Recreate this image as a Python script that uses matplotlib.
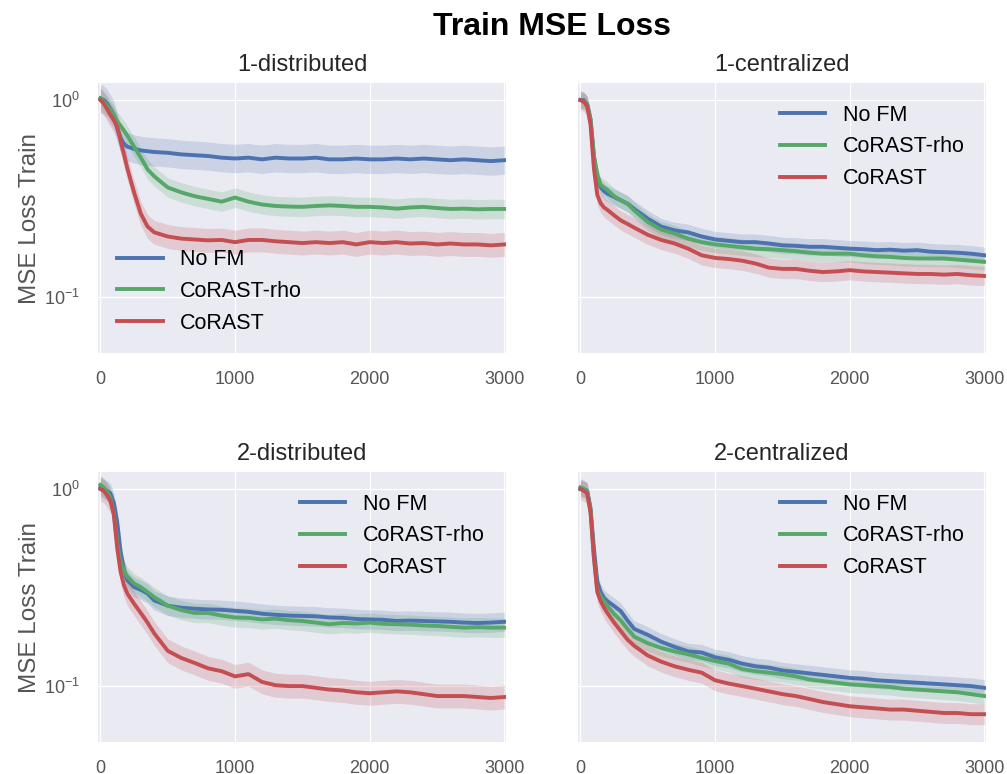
import numpy as np
import matplotlib
matplotlib.use("Agg")
import matplotlib.pyplot as plt
from matplotlib.ticker import LogLocator, NullLocator

steps = [0, 25, 50, 75, 100, 125, 150, 175, 200, 250, 300, 350, 400,
         500, 600, 700, 800, 900, 1000, 1100, 1200, 1300, 1400, 1500,
         1600, 1700, 1800, 1900, 2000, 2100, 2200, 2300, 2400, 2500,
         2600, 2700, 2800, 2900, 3000]

methods = ["No FM", "CoRAST-rho", "CoRAST"]
panel_titles = ["1-distributed", "1-centralized", "2-distributed", "2-centralized"]

# 1-distributed
d1_nofm = [1.02, 1.0, 0.96, 0.9, 0.84, 0.72, 0.64, 0.6, 0.58, 0.565, 0.555, 0.55, 0.545,
           0.54, 0.53, 0.525, 0.52, 0.51, 0.505, 0.51, 0.5, 0.51, 0.505, 0.505,
           0.51, 0.5, 0.5, 0.505, 0.5, 0.5, 0.505, 0.5, 0.505, 0.5,
           0.495, 0.5, 0.495, 0.49, 0.495]
d1_rho = [1.02, 0.98, 0.94, 0.89, 0.84, 0.78, 0.74, 0.7, 0.66, 0.58, 0.51, 0.445, 0.41,
          0.36, 0.34, 0.325, 0.315, 0.305, 0.32, 0.305, 0.295, 0.29, 0.288, 0.287,
          0.29, 0.292, 0.29, 0.287, 0.287, 0.285, 0.281, 0.285, 0.287, 0.283,
          0.28, 0.281, 0.279, 0.28, 0.28]
d1_corast = [1.0, 0.96, 0.9, 0.84, 0.79, 0.73, 0.62, 0.53, 0.45, 0.34, 0.265, 0.228, 0.213,
             0.203, 0.198, 0.196, 0.194, 0.195, 0.19, 0.195, 0.195, 0.192, 0.19, 0.188,
             0.19, 0.188, 0.19, 0.185, 0.19, 0.188, 0.19, 0.187, 0.188, 0.185,
             0.187, 0.185, 0.185, 0.183, 0.185]

# 1-centralized
c1_nofm = [1.0, 1.0, 0.95, 0.8, 0.52, 0.4, 0.36, 0.345, 0.335, 0.322, 0.31, 0.298, 0.28,
           0.25, 0.228, 0.218, 0.213, 0.203, 0.196, 0.193, 0.19, 0.19, 0.187, 0.183,
           0.182, 0.18, 0.18, 0.178, 0.176, 0.175, 0.173, 0.174, 0.172, 0.173,
           0.17, 0.169, 0.168, 0.166, 0.163]
c1_rho = [1.0, 0.99, 0.95, 0.8, 0.52, 0.42, 0.37, 0.36, 0.35, 0.325, 0.31, 0.298, 0.275,
          0.24, 0.22, 0.21, 0.198, 0.19, 0.185, 0.182, 0.179, 0.176, 0.175, 0.173,
          0.171, 0.168, 0.166, 0.166, 0.166, 0.163, 0.161, 0.16, 0.158, 0.157,
          0.157, 0.157, 0.155, 0.153, 0.151]
c1_corast = [1.0, 0.98, 0.93, 0.75, 0.45, 0.33, 0.3, 0.285, 0.277, 0.26, 0.245, 0.235, 0.225,
             0.207, 0.195, 0.187, 0.176, 0.163, 0.158, 0.156, 0.153, 0.148, 0.141, 0.139,
             0.139, 0.136, 0.134, 0.135, 0.137, 0.135, 0.134, 0.133, 0.132, 0.131,
             0.131, 0.13, 0.131, 0.129, 0.128]

# 2-distributed
d2_nofm = [1.02, 1.0, 0.98, 0.95, 0.85, 0.68, 0.48, 0.39, 0.345, 0.318, 0.308, 0.295, 0.272,
           0.256, 0.25, 0.247, 0.245, 0.244, 0.241, 0.238, 0.233, 0.23, 0.228, 0.227,
           0.226, 0.223, 0.222, 0.219, 0.218, 0.217, 0.214, 0.215, 0.214, 0.213,
           0.212, 0.21, 0.209, 0.21, 0.212]
d2_rho = [1.05, 1.02, 0.97, 0.9, 0.75, 0.53, 0.43, 0.385, 0.36, 0.332, 0.318, 0.3, 0.283,
          0.256, 0.243, 0.235, 0.235, 0.228, 0.223, 0.222, 0.218, 0.22, 0.216, 0.214,
          0.21, 0.206, 0.209, 0.208, 0.21, 0.207, 0.206, 0.205, 0.203, 0.202,
          0.2, 0.198, 0.199, 0.198, 0.198]
d2_corast = [1.0, 0.98, 0.93, 0.87, 0.74, 0.5, 0.38, 0.325, 0.295, 0.262, 0.235, 0.21, 0.185,
             0.151, 0.139, 0.131, 0.123, 0.119, 0.112, 0.115, 0.105, 0.101, 0.1, 0.1,
             0.098, 0.096, 0.095, 0.093, 0.092, 0.093, 0.094, 0.093, 0.091, 0.089,
             0.089, 0.089, 0.088, 0.087, 0.088]

# 2-centralized
c2_nofm = [1.0, 1.0, 0.98, 0.8, 0.5, 0.34, 0.3, 0.28, 0.27, 0.255, 0.24, 0.215, 0.195,
           0.182, 0.168, 0.158, 0.15, 0.148, 0.14, 0.136, 0.13, 0.126, 0.124, 0.12,
           0.118, 0.116, 0.114, 0.112, 0.11, 0.109, 0.107, 0.106, 0.105, 0.104,
           0.103, 0.102, 0.101, 0.1, 0.098]
c2_rho = [1.02, 1.0, 0.97, 0.78, 0.45, 0.31, 0.285, 0.27, 0.255, 0.232, 0.215, 0.195, 0.178,
          0.165, 0.156, 0.15, 0.145, 0.139, 0.134, 0.13, 0.122, 0.119, 0.117, 0.115,
          0.112, 0.108, 0.106, 0.104, 0.102, 0.101, 0.1, 0.099, 0.097, 0.096,
          0.095, 0.094, 0.093, 0.091, 0.089]
c2_corast = [1.0, 0.98, 0.95, 0.76, 0.45, 0.3, 0.27, 0.25, 0.235, 0.21, 0.19, 0.172, 0.16,
             0.143, 0.133, 0.126, 0.121, 0.117, 0.107, 0.103, 0.1, 0.097, 0.094, 0.091,
             0.089, 0.086, 0.083, 0.081, 0.079, 0.078, 0.077, 0.076, 0.076, 0.075,
             0.074, 0.073, 0.073, 0.072, 0.072]

# spread of the shaded band (multiplicative), per panel and method
band_ratio = [[1.18, 1.12, 1.15],
              [1.10, 1.10, 1.12],
              [1.12, 1.12, 1.15],
              [1.10, 1.10, 1.13]]

panels = [[d1_nofm, d1_rho, d1_corast],
          [c1_nofm, c1_rho, c1_corast],
          [d2_nofm, d2_rho, d2_corast],
          [c2_nofm, c2_rho, c2_corast]]

colors = ["#4C72B0", "#55A868", "#C44E52"]

plt.rcParams["font.family"] = ["Liberation Sans", "DejaVu Sans"]

fig = plt.figure(figsize=(10.07, 7.74), dpi=100)
fig.patch.set_facecolor("white")

positions = [[0.0973, 0.5439, 0.4052, 0.3488],
             [0.574, 0.5439, 0.4052, 0.3488],
             [0.0973, 0.0413, 0.4052, 0.3488],
             [0.574, 0.0413, 0.4052, 0.3488]]

x = np.array(steps)
for i, pos in enumerate(positions):
    ax = fig.add_axes(pos)
    ax.set_facecolor("#EAEAF2")
    for s in ax.spines.values():
        s.set_visible(False)
    for j, name in enumerate(methods):
        y = np.array(panels[i][j])
        r = band_ratio[i][j]
        ax.fill_between(x, y / r, y * r, color=colors[j], alpha=0.2, lw=0)
        ax.plot(x, y, color=colors[j], lw=2.8, label=name)
    ax.set_yscale("log")
    ax.set_ylim(0.052, 1.22)
    ax.set_xlim(-18, 3012)
    ax.set_xticks([0, 1000, 2000, 3000])
    ax.yaxis.set_major_locator(LogLocator(base=10))
    ax.yaxis.set_minor_locator(NullLocator())
    ax.grid(True, color="white", lw=0.9)
    ax.set_axisbelow(True)
    ax.tick_params(length=0, pad=13, labelsize=13, colors="#555555")
    ax.set_title(panel_titles[i], fontsize=17, color="#262626", pad=9)
    if i % 2 == 0:
        ax.set_ylabel("MSE Loss Train", fontsize=17.5, color="#555555", labelpad=2)
    else:
        ax.set_yticklabels([])
    if i == 0:
        ax.legend(loc="lower left", fontsize=15.5, frameon=False, labelspacing=0.5,
                  handlelength=2.1, borderaxespad=0.5)
    else:
        ax.legend(loc="upper right", fontsize=15.5, frameon=False, labelspacing=0.5,
                  handlelength=2.1, borderaxespad=0.6)

fig.suptitle("Train MSE Loss", fontsize=23, fontweight="bold", x=0.548, y=0.985)

fig.savefig("out.png", dpi=100)
